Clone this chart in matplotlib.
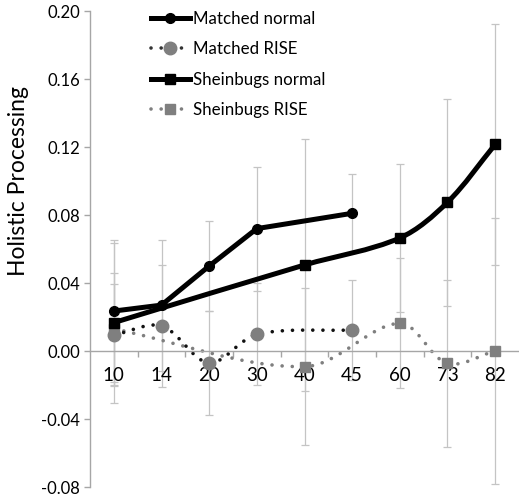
import numpy as np
import matplotlib.pyplot as plt
from matplotlib.path import Path
from matplotlib.patches import PathPatch
from matplotlib.lines import Line2D

plt.rcParams['font.family'] = ['Lato', 'DejaVu Sans']

# ----------------------------------------------------
# Data
# ----------------------------------------------------
ages = ["10", "14", "20", "30", "40", "45", "60", "73", "82"]

matched_ages = ["10", "14", "20", "30", "45"]
matched_normal = [0.0235, 0.027, 0.050, 0.072, 0.081]
matched_normal_err = [0.042, 0.0385, 0.0266, 0.0365, 0.0233]
matched_rise = [0.0094, 0.0147, -0.007, 0.0098, 0.0124]
matched_rise_err = [0.030, 0.036, 0.0306, 0.030, 0.0296]

sheinbugs_ages = ["10", "40", "60", "73", "82"]
sheinbugs_normal = [0.0167, 0.0506, 0.0665, 0.0875, 0.1215]
sheinbugs_normal_err = [0.047, 0.074, 0.0435, 0.061, 0.071]
sheinbugs_rise = [0.013, -0.0092, 0.0163, -0.0073, 0.0]
sheinbugs_rise_err = [0.033, 0.0462, 0.0383, 0.049, 0.0785]

y_ticks = [-0.08, -0.04, 0.00, 0.04, 0.08, 0.12, 0.16, 0.20]

GREY = "#7f7f7f"
ERR = "#c4c4c4"

fig = plt.figure(figsize=(5.19, 4.99), dpi=100)
ax = fig.add_axes([90 / 519, 12 / 499, 429 / 519, 476 / 499])
ax.set_xlim(-0.5, len(ages) - 0.5)
ax.set_ylim(-0.08, 0.20)


def line_path(xs, ys, smooth):
    # straight segments, or an Excel-like smoothed line built in screen space
    pts = ax.transData.transform(np.column_stack([xs, ys]).astype(float))
    if not smooth:
        return Path(ax.transData.inverted().transform(pts))
    ext = np.vstack([pts[0], pts, pts[-1]])
    verts = [pts[0]]
    codes = [Path.MOVETO]
    k = 1 / 3
    for i in range(len(pts) - 1):
        p0, p1, p2, p3 = ext[i], ext[i + 1], ext[i + 2], ext[i + 3]
        d12 = np.hypot(*(p2 - p1))
        d01 = np.hypot(*(p1 - p0))
        d23 = np.hypot(*(p3 - p2))
        c1 = p1 + (p2 - p0) * k * d12 / max(d01 + d12, 1e-9)
        c2 = p2 - (p3 - p1) * k * d12 / max(d12 + d23, 1e-9)
        verts += [c1, c2, p2]
        codes += [Path.CURVE4] * 3
    verts = ax.transData.inverted().transform(np.array(verts))
    return Path(verts, codes)


def draw_series(xs, ys, err, color, lw, ls, marker, mcolor, ms, smooth):
    ax.errorbar(xs, ys, yerr=err, fmt="none", ecolor=ERR, elinewidth=0.9,
                capsize=2.9, capthick=0.9, zorder=1)
    patch = PathPatch(line_path(xs, ys, smooth), fill=False, edgecolor=color,
                      linewidth=lw, linestyle=ls, zorder=2)
    patch.set_capstyle("round")
    patch.set_joinstyle("round")
    ax.add_patch(patch)
    ax.plot(xs, ys, linestyle="none", marker=marker, color=mcolor,
            markersize=ms, zorder=3)


mx = [ages.index(a) for a in matched_ages]
sx = [ages.index(a) for a in sheinbugs_ages]

DOT = (0, (0.01, 2.8))

draw_series(sx, sheinbugs_rise, sheinbugs_rise_err, GREY, 2.6, DOT, "s", GREY, 7, True)
draw_series(mx, matched_rise, matched_rise_err, "#111111", 2.6, DOT, "o", GREY, 9, True)
draw_series(sx, sheinbugs_normal, sheinbugs_normal_err, "black", 3.6, "-", "s", "black", 7, True)
draw_series(mx, matched_normal, matched_normal_err, "black", 3.6, "-", "o", "black", 7, False)

# ----------------------------------------------------
# Axes
# ----------------------------------------------------
ax.set_yticks(y_ticks)
ax.set_yticklabels([f"{t:.2f}" for t in y_ticks])
ax.set_xticks(range(len(ages)))
ax.set_xticklabels(ages)
ax.set_xticks(np.arange(0.5, len(ages) - 0.5, 1), minor=True)
ax.tick_params(axis="x", which="major", length=0, pad=11.5, labelsize=13.5)
ax.tick_params(axis="x", which="minor", length=4, direction="out", color="#a6a6a6", width=1)
ax.tick_params(axis="y", length=4, color="#a6a6a6", width=1, pad=3, labelsize=12)

for side in ["top", "right"]:
    ax.spines[side].set_visible(False)
ax.spines["bottom"].set_position(("data", 0))
ax.spines["left"].set_color("#a6a6a6")
ax.spines["bottom"].set_color("#a6a6a6")
ax.spines["left"].set_linewidth(1)
ax.spines["bottom"].set_linewidth(1)
ax.patch.set_alpha(0)

fig.text(19 / 519, 1 - 181 / 499, "Holistic Processing", rotation=90,
         ha="center", va="center", fontsize=16.5)

# ----------------------------------------------------
# Legend
# ----------------------------------------------------
handles = [
    Line2D([], [], color="black", lw=3.6, marker="o", markersize=7),
    Line2D([], [], color="#333333", lw=2.6, linestyle=DOT, dash_capstyle="round",
           marker="o", markerfacecolor=GREY, markeredgecolor=GREY, markersize=9),
    Line2D([], [], color="black", lw=3.6, marker="s", markersize=7),
    Line2D([], [], color=GREY, lw=2.6, linestyle=DOT, dash_capstyle="round",
           marker="s", markerfacecolor=GREY, markeredgecolor=GREY, markersize=7),
]
labels = ["Matched normal", "Matched RISE", "Sheinbugs normal", "Sheinbugs RISE"]
fig.legend(handles, labels, loc="upper left",
           bbox_to_anchor=(144 / 519, 1 - 4 / 499), frameon=False,
           fontsize=12.2, handlelength=2.3, handletextpad=0.18,
           labelspacing=0.85, borderaxespad=0)

fig.savefig("out.png", dpi=100)
